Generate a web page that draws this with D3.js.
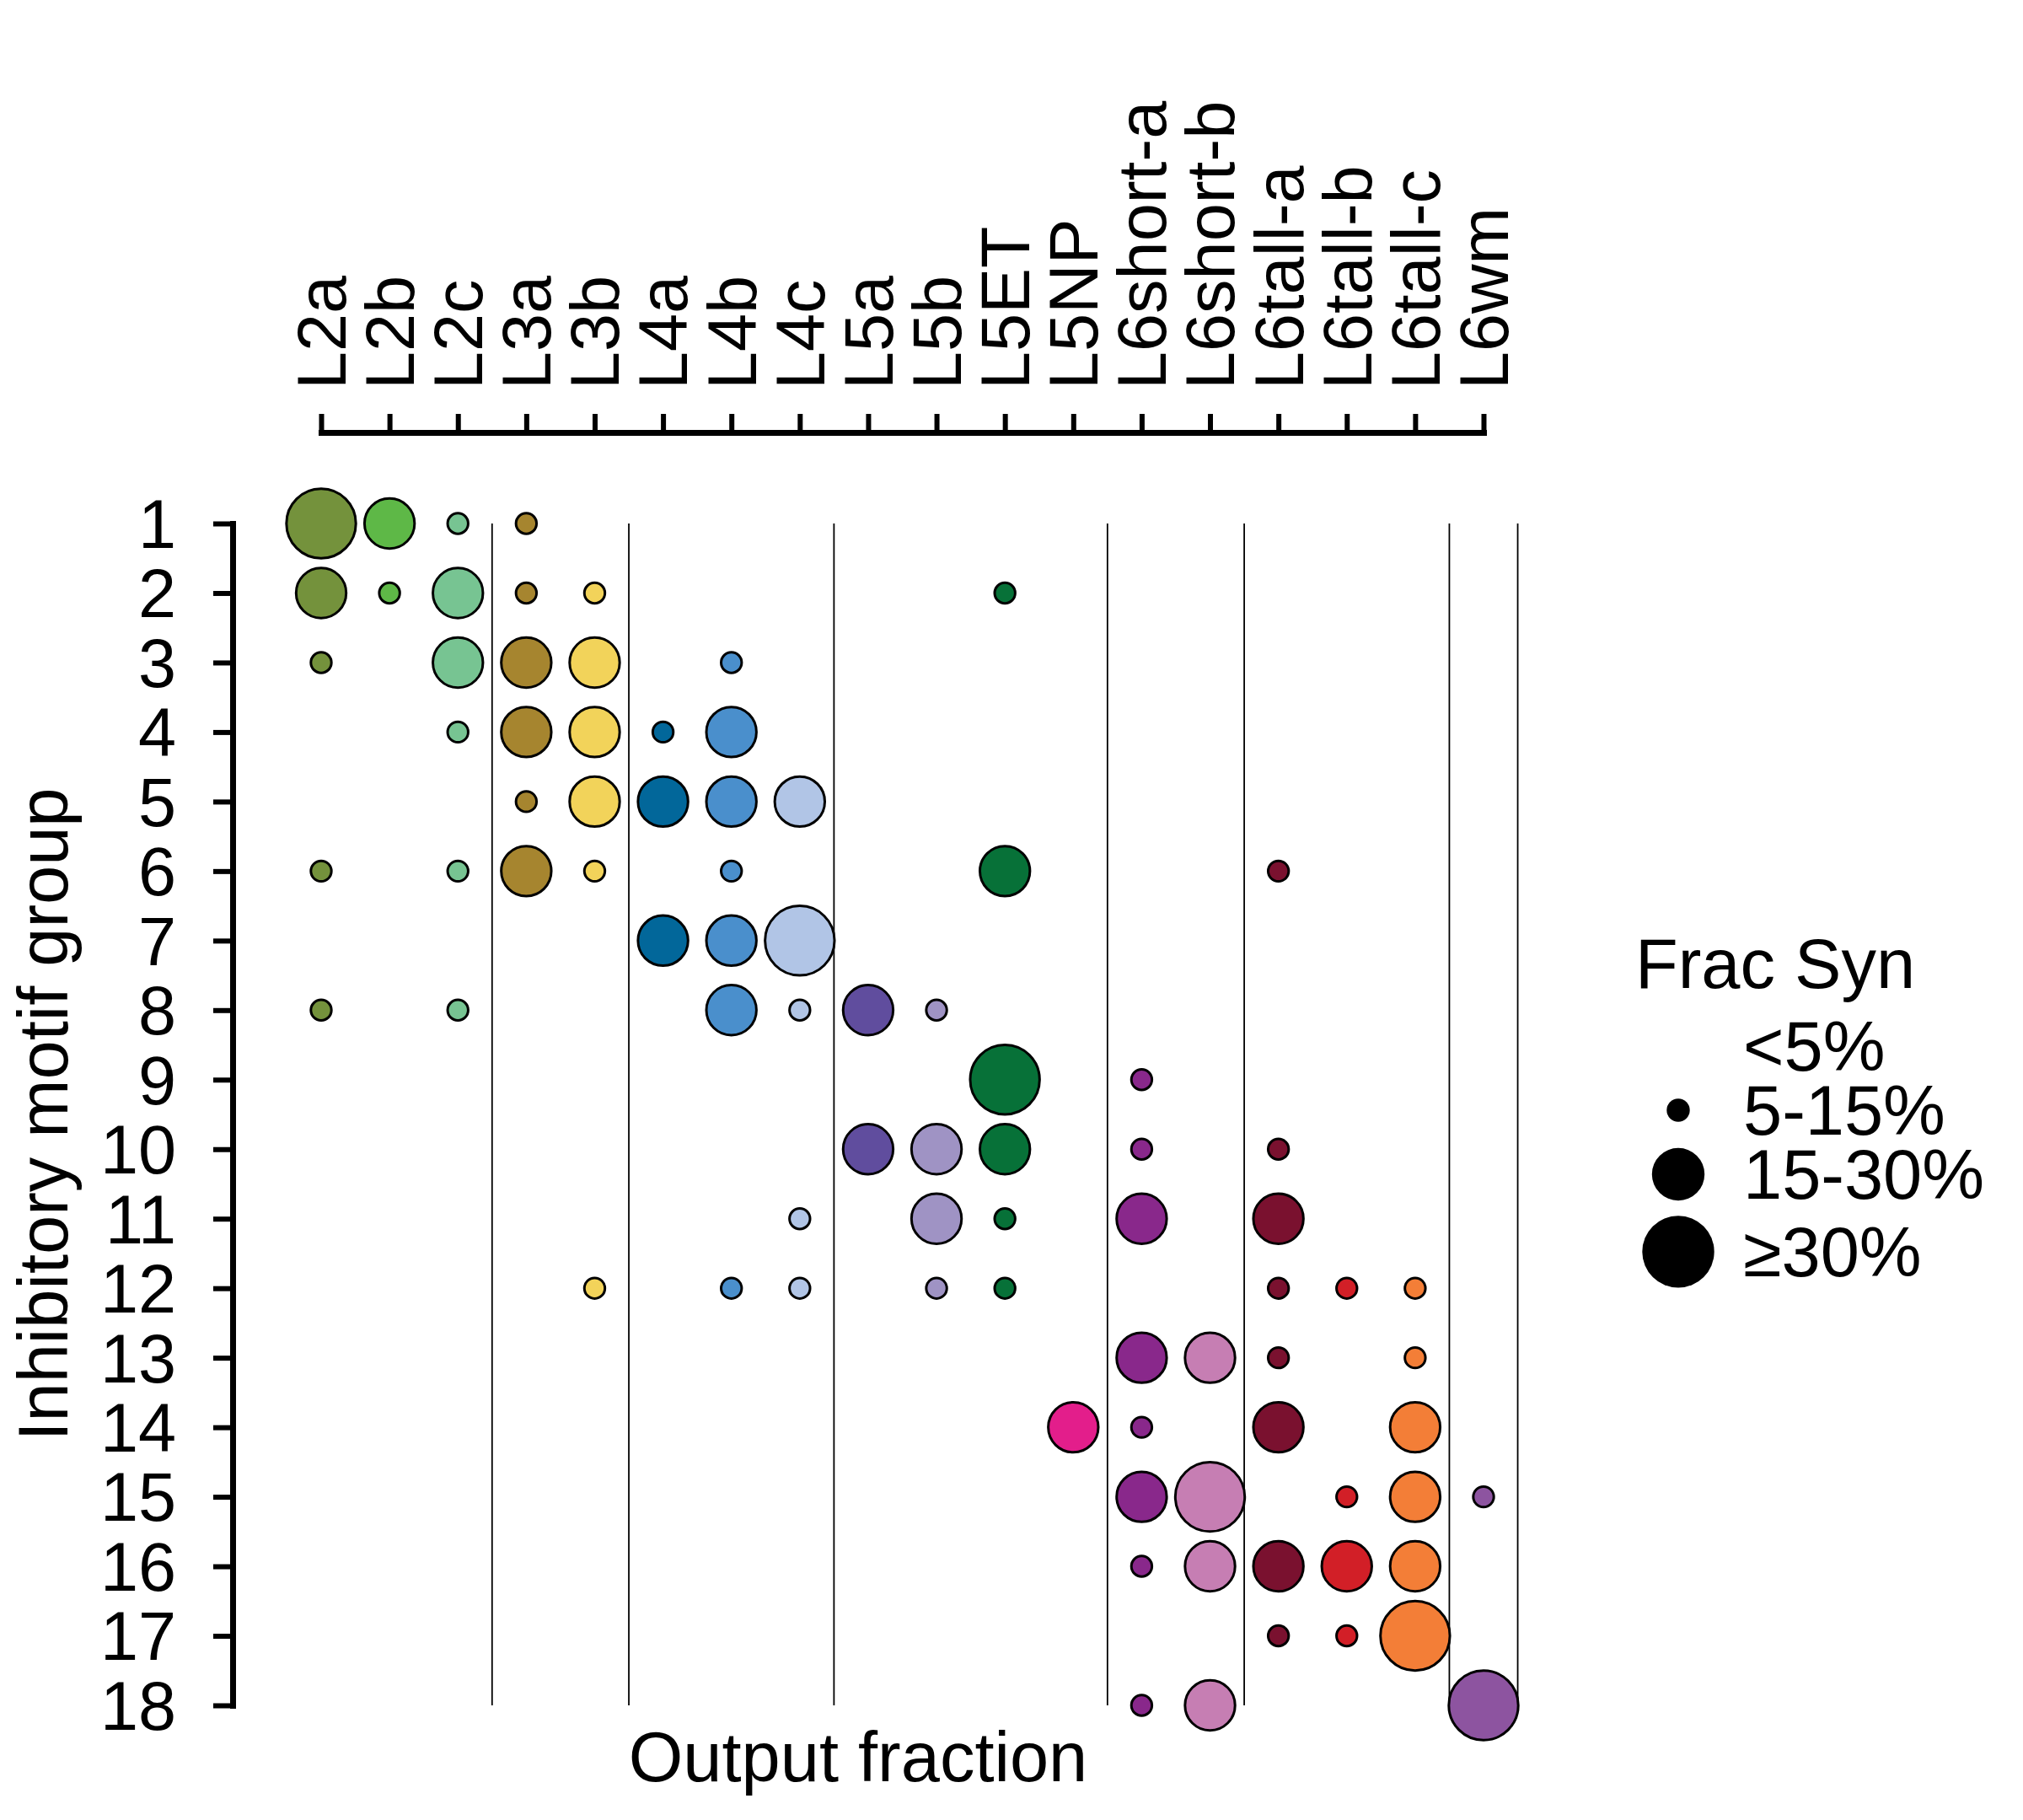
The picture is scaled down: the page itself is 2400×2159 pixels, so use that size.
<!DOCTYPE html>
<html>
<head>
<meta charset="utf-8">
<script src="https://cdn.jsdelivr.net/npm/d3@7/dist/d3.min.js"></script>
<style>
  html, body { margin: 0; padding: 0; background: #ffffff; }
  svg { display: block; }
  text { font-family: "Liberation Sans", Arial, sans-serif; fill: #000; }
</style>
</head>
<body>
<script>
// ---------------- DATA ----------------
const cellTypes = ["L2a","L2b","L2c","L3a","L3b","L4a","L4b","L4c","L5a","L5b","L5ET","L5NP",
  "L6short-a","L6short-b","L6tall-a","L6tall-b","L6tall-c","L6wm"];
const cellColors = ["#74923c","#5eb847","#77c492","#a6852f","#f2d35a","#02679a","#4a8fcc","#b1c5e6",
  "#604d9e","#9f93c4","#077138","#e31e8b","#89288b","#c67eb3","#7a112f","#d21f27","#f37e37","#8d54a0"];
const motifGroups = ["1","2","3","4","5","6","7","8","9","10","11","12","13","14","15","16","17","18"];
// layer groups (vertical separators are drawn after the last type of each group)
const layerGroupEnds = ["L2c","L3b","L4c","L5NP","L6short-b","L6tall-c","L6wm"];
// fraction of synapses (estimated class midpoints; 0 = <5%)
const fracSyn = [
//  L2a  L2b  L2c  L3a  L3b  L4a  L4b  L4c  L5a  L5b  5ET  5NP  6sa  6sb  6ta  6tb  6tc  6wm
  [0.35,0.22,0.10,0.10,0,   0,   0,   0,   0,   0,   0,   0,   0,   0,   0,   0,   0,   0   ], // 1
  [0.22,0.10,0.22,0.10,0.10,0,   0,   0,   0,   0,   0.10,0,   0,   0,   0,   0,   0,   0   ], // 2
  [0.10,0,   0.22,0.22,0.22,0,   0.10,0,   0,   0,   0,   0,   0,   0,   0,   0,   0,   0   ], // 3
  [0,   0,   0.10,0.22,0.22,0.10,0.22,0,   0,   0,   0,   0,   0,   0,   0,   0,   0,   0   ], // 4
  [0,   0,   0,   0.10,0.22,0.22,0.22,0.22,0,   0,   0,   0,   0,   0,   0,   0,   0,   0   ], // 5
  [0.10,0,   0.10,0.22,0.10,0,   0.10,0,   0,   0,   0.22,0,   0,   0,   0.10,0,   0,   0   ], // 6
  [0,   0,   0,   0,   0,   0.22,0.22,0.35,0,   0,   0,   0,   0,   0,   0,   0,   0,   0   ], // 7
  [0.10,0,   0.10,0,   0,   0,   0.22,0.10,0.22,0.10,0,   0,   0,   0,   0,   0,   0,   0   ], // 8
  [0,   0,   0,   0,   0,   0,   0,   0,   0,   0,   0.35,0,   0.10,0,   0,   0,   0,   0   ], // 9
  [0,   0,   0,   0,   0,   0,   0,   0,   0.22,0.22,0.22,0,   0.10,0,   0.10,0,   0,   0   ], // 10
  [0,   0,   0,   0,   0,   0,   0,   0.10,0,   0.22,0.10,0,   0.22,0,   0.22,0,   0,   0   ], // 11
  [0,   0,   0,   0,   0.10,0,   0.10,0.10,0,   0.10,0.10,0,   0,   0,   0.10,0.10,0.10,0   ], // 12
  [0,   0,   0,   0,   0,   0,   0,   0,   0,   0,   0,   0,   0.22,0.22,0.10,0,   0.10,0   ], // 13
  [0,   0,   0,   0,   0,   0,   0,   0,   0,   0,   0,   0.22,0.10,0,   0.22,0,   0.22,0   ], // 14
  [0,   0,   0,   0,   0,   0,   0,   0,   0,   0,   0,   0,   0.22,0.35,0,   0.10,0.22,0.10], // 15
  [0,   0,   0,   0,   0,   0,   0,   0,   0,   0,   0,   0,   0.10,0.22,0.22,0.22,0.22,0   ], // 16
  [0,   0,   0,   0,   0,   0,   0,   0,   0,   0,   0,   0,   0,   0,   0.10,0.10,0.35,0   ], // 17
  [0,   0,   0,   0,   0,   0,   0,   0,   0,   0,   0,   0,   0.10,0.22,0,   0,   0,   0.35]  // 18
];
const sizeThresholds = [0.05, 0.15, 0.30];
const sizeLabels = ["<5%","5-15%","15-30%","\u226530%"];
const legendValues = [0.02, 0.10, 0.22, 0.35];
const xTitle = "Output fraction";
const yTitle = "Inhibitory motif group";
const legendTitle = "Frac Syn";

// ---------------- LAYOUT ----------------
const W = 2400, H = 2159;
const FS = 81;      // tick labels
const FT = 83;      // titles and legend
const strokeW = 3;

const svg = d3.select("body").append("svg")
  .attr("width", W).attr("height", H)
  .attr("viewBox", `0 0 ${W} ${H}`);

const x = d3.scalePoint().domain(cellTypes).range([381, 1760]);
const y = d3.scalePoint().domain(motifGroups).range([621, 2023]);
const color = d3.scaleOrdinal().domain(cellTypes).range(cellColors);
// outer radius (incl. stroke) by size class
const rScale = d3.scaleThreshold().domain(sizeThresholds).range([0, 13.7, 31.2, 42.7]);

const step = x.step();

// vertical layer separator lines
svg.append("g").selectAll("line")
  .data(layerGroupEnds)
  .join("line")
  .attr("x1", d => x(d) + step / 2)
  .attr("x2", d => x(d) + step / 2)
  .attr("y1", y(motifGroups[0]))
  .attr("y2", y(motifGroups[motifGroups.length - 1]))
  .attr("stroke", "#000")
  .attr("stroke-width", 1.8);

// points
const cells = [];
fracSyn.forEach((row, i) => {
  row.forEach((v, j) => {
    if (v >= sizeThresholds[0]) cells.push({ group: motifGroups[i], type: cellTypes[j], v });
  });
});

svg.append("g").selectAll("circle")
  .data(cells)
  .join("circle")
  .attr("cx", d => x(d.type))
  .attr("cy", d => y(d.group))
  .attr("r", d => rScale(d.v) - strokeW / 2)
  .attr("fill", d => color(d.type))
  .attr("stroke", "#000")
  .attr("stroke-width", strokeW);

// top x axis
const xAxisY = 513;
const gx = svg.append("g")
  .attr("transform", `translate(0,${xAxisY})`)
  .call(d3.axisTop(x).tickSize(22).tickSizeOuter(0).tickPadding(0));
gx.select(".domain").attr("stroke", "#000").attr("stroke-width", 7).attr("stroke-linecap", "square");
gx.selectAll(".tick line").attr("stroke", "#000").attr("stroke-width", 6);
gx.selectAll(".tick text")
  .attr("font-size", FS)
  .attr("font-family", "Liberation Sans, Arial, sans-serif")
  .attr("fill", "#000")
  .attr("x", 0).attr("y", 0)
  .attr("dy", "0.35em")
  .attr("text-anchor", "start")
  .attr("transform", "translate(0,-51) rotate(-90)");

// left y axis
const yAxisX = 276;
const gy = svg.append("g")
  .attr("transform", `translate(${yAxisX},0)`)
  .call(d3.axisLeft(y).tickSize(23).tickSizeOuter(0).tickPadding(44));
gy.select(".domain").attr("stroke", "#000").attr("stroke-width", 7).attr("stroke-linecap", "square");
gy.selectAll(".tick line").attr("stroke", "#000").attr("stroke-width", 6);
gy.selectAll(".tick text")
  .attr("font-size", FS)
  .attr("font-family", "Liberation Sans, Arial, sans-serif")
  .attr("fill", "#000")
  .attr("dy", "0.35em");

// axis titles
svg.append("text")
  .attr("x", 1018).attr("y", 2113)
  .attr("text-anchor", "middle")
  .attr("font-size", FT)
  .text(xTitle);

svg.append("text")
  .attr("transform", `translate(80,${(y(motifGroups[0]) + y(motifGroups[17])) / 2}) rotate(-90)`)
  .attr("text-anchor", "middle")
  .attr("font-size", FT)
  .text(yTitle);

// legend
const lg = svg.append("g");
lg.append("text")
  .attr("x", 1940).attr("y", 1172)
  .attr("font-size", FT)
  .text(legendTitle);

const legendCx = 1991, legendTx = 2068;
let ly = 1241;
const legendRows = legendValues.map((v, i) => {
  const r = rScale(v);
  if (i > 0) {
    const rp = rScale(legendValues[i - 1]);
    ly += Math.max(76, rp + r + 18);
  }
  return { v, r, cy: ly, label: sizeLabels[i] };
});

lg.selectAll("circle")
  .data(legendRows)
  .join("circle")
  .attr("cx", legendCx)
  .attr("cy", d => d.cy)
  .attr("r", d => d.r)
  .attr("fill", "#000");

lg.selectAll("text.item")
  .data(legendRows)
  .join("text")
  .attr("class", "item")
  .attr("x", legendTx)
  .attr("y", d => d.cy)
  .attr("dy", "0.35em")
  .attr("font-size", FT)
  .text(d => d.label);
</script>
</body>
</html>
